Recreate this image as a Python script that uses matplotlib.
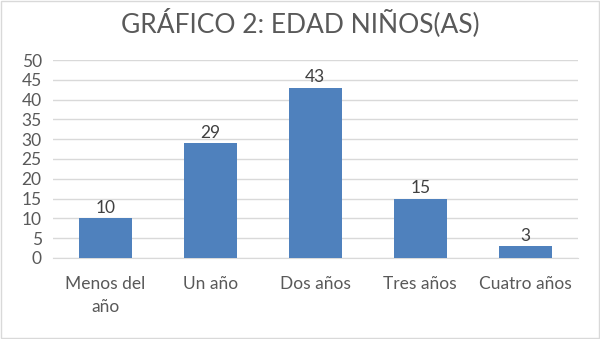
import matplotlib
matplotlib.use("Agg")
import matplotlib.pyplot as plt
from matplotlib.patches import Rectangle

categories = ["Menos del\naño", "Un año", "Dos años", "Tres años", "Cuatro años"]
values = [10, 29, 43, 15, 3]
yticks = [0, 5, 10, 15, 20, 25, 30, 35, 40, 45, 50]
title = "GRÁFICO 2: EDAD NIÑOS(AS)"

plt.rcParams['font.family'] = ['Lato', 'DejaVu Sans']
txt = '#595959'

fig = plt.figure(figsize=(6, 3.39), dpi=100)
ax = fig.add_axes([0.088, 0.239, 0.875, 0.584])
x = list(range(len(categories)))
ax.bar(x, values, width=0.5, color='#4F81BD', zorder=3)
for xi, v in zip(x, values):
    ax.text(xi, v + 0.6, str(v), ha='center', va='bottom', fontsize=12.5, color='#404040')

ax.set_xlim(-0.5, len(categories) - 0.5)
ax.set_ylim(0, 50)
ax.set_yticks(yticks)
ax.set_xticks(x)
ax.set_xticklabels(categories, fontsize=12.5, color=txt, linespacing=1.55)
ax.tick_params(axis='y', labelsize=12.5, labelcolor=txt, length=0, pad=8)
ax.tick_params(axis='x', length=0, pad=13)
ax.grid(axis='y', color='#D9D9D9', linewidth=1, zorder=0)
for s in ['top', 'right', 'left']:
    ax.spines[s].set_visible(False)
ax.spines['bottom'].set_color('#D9D9D9')
ax.set_facecolor('white')

fig.text(0.5, 0.935, title, ha='center', va='center', fontsize=19, color=txt)
fig.patches.append(Rectangle((0.001, 0.002), 0.997, 0.995, transform=fig.transFigure,
                             fill=False, edgecolor='#D9D9D9', linewidth=1))
fig.savefig('out.png', dpi=100)
